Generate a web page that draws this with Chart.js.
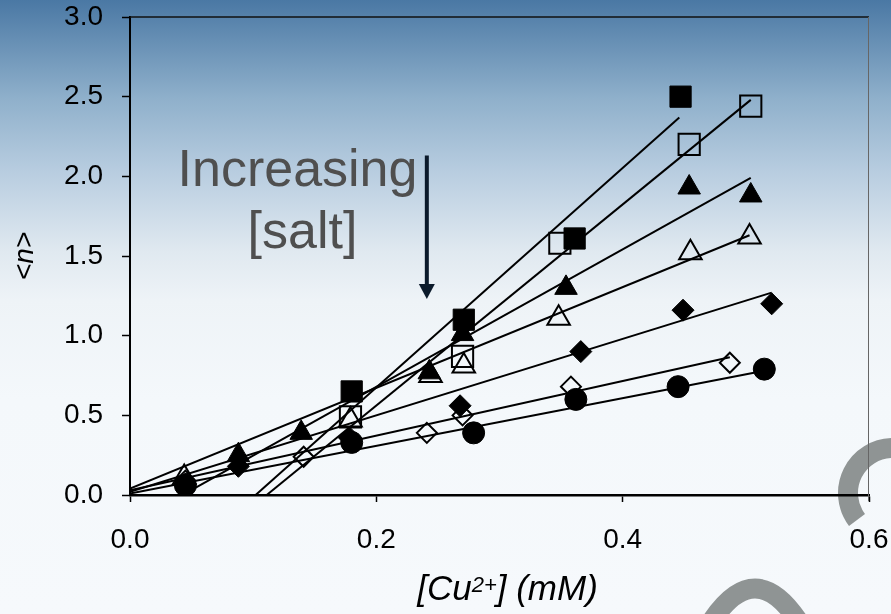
<!DOCTYPE html>
<html>
<head>
<meta charset="utf-8">
<script src="https://cdn.jsdelivr.net/npm/chart.js@4.4.1/dist/chart.umd.min.js"></script>
<style>
html, body { margin: 0; padding: 0; }
body {
    width: 891px; height: 614px; overflow: hidden; position: relative;
    background: linear-gradient(to bottom, #4a78a4 0%, #8fb0cb 16%, #b8cde0 28%, #e0e9f0 41%, #eef3f7 49%, #f4f8fb 65%, #f6f9fc 100%);
}
#deco, #chart { position: absolute; left: 0; top: 0; }
</style>
</head>
<body>
<svg id="deco" width="891" height="614">
    <path d="M 857 520 A 45 45 0 0 1 893 448" fill="none" stroke="#8f9494" stroke-width="20"/>
    <path d="M 705 632 Q 755 545 805 632" fill="none" stroke="#8f9494" stroke-width="20"/>
</svg>
<canvas id="chart" width="891" height="614"></canvas>
<script>
// axis ticks
var xTicks = [0, 0.2, 0.4, 0.6];
var yTicks = [0, 0.5, 1.0, 1.5, 2.0, 2.5, 3.0];

var sqFilledX = [0.180, 0.271, 0.361, 0.447];
var sqFilledY = [0.65, 1.10, 1.61, 2.50];
var sqOpenX = [0.179, 0.270, 0.349, 0.454, 0.504];
var sqOpenY = [0.49, 0.87, 1.58, 2.20, 2.44];
var triFilledX = [0.088, 0.139, 0.243, 0.270, 0.354, 0.454, 0.504];
var triFilledY = [0.25, 0.39, 0.77, 1.01, 1.30, 1.93, 1.88];
var triOpenX = [0.044, 0.179, 0.244, 0.271, 0.348, 0.455, 0.503];
var triOpenY = [0.11, 0.47, 0.75, 0.81, 1.11, 1.52, 1.62];
var diaFilledX = [0.045, 0.088, 0.178, 0.268, 0.366, 0.449, 0.521];
var diaFilledY = [0.07, 0.18, 0.36, 0.56, 0.90, 1.16, 1.20];
var diaOpenX = [0.045, 0.141, 0.241, 0.270, 0.358, 0.487];
var diaOpenY = [0.09, 0.24, 0.39, 0.50, 0.68, 0.83];
var circX = [0.045, 0.180, 0.279, 0.362, 0.445, 0.515];
var circY = [0.06, 0.33, 0.39, 0.60, 0.68, 0.79];

// fitted straight lines, start and end (same series order)
var fitStartX = [0.102, 0.111, 0.045, 0, 0, 0, 0];
var fitStartY = [0, 0, 0.01, 0.04, 0.02, 0.03, 0.01];
var fitEndX = [0.446, 0.504, 0.504, 0.503, 0.521, 0.487, 0.515];
var fitEndY = [2.37, 2.48, 1.99, 1.63, 1.27, 0.865, 0.78];

function pts(xs, ys) {
    return xs.map(function(x, i) { return { x: x, y: ys[i] }; });
}

function marker(xs, ys, style, radius, filled) {
    return {
        data: pts(xs, ys),
        showLine: false,
        pointStyle: style,
        pointRadius: radius,
        pointHoverRadius: radius,
        backgroundColor: filled ? '#000' : 'rgba(0,0,0,0)',
        borderColor: '#000',
        pointBorderWidth: filled ? 1 : 2
    };
}

var datasets = [
    marker(sqFilledX, sqFilledY, 'rect', 15, true),
    marker(sqOpenX, sqOpenY, 'rect', 15, false),
    marker(triFilledX, triFilledY, 'triangle', 13, true),
    marker(triOpenX, triOpenY, 'triangle', 13, false),
    marker(diaFilledX, diaFilledY, 'rectRot', 11, true),
    marker(diaOpenX, diaOpenY, 'rectRot', 10, false),
    marker(circX, circY, 'circle', 11, true)
];

// fit lines go after the markers so they are drawn underneath
for (var i = 0; i < fitStartX.length; i++) {
    datasets.push({
        data: [{ x: fitStartX[i], y: fitStartY[i] }, { x: fitEndX[i], y: fitEndY[i] }],
        showLine: true,
        borderColor: '#000',
        borderWidth: 2,
        pointRadius: 0,
        pointHoverRadius: 0
    });
}

var family = '"Liberation Sans", Arial, sans-serif';

// frame, x title, note text and arrow
var notePlugin = {
    id: 'note',
    afterDatasetsDraw: function(chart) {
        var ctx = chart.ctx;
        var xs = chart.scales.x, ys = chart.scales.y;
        var a = chart.chartArea;
        ctx.save();
        ctx.strokeStyle = '#111';
        ctx.lineWidth = 1.5;
        ctx.beginPath();
        ctx.moveTo(a.left, a.top);
        ctx.lineTo(a.right, a.top);
        ctx.stroke();
        ctx.strokeStyle = '#666';
        ctx.lineWidth = 1;
        ctx.beginPath();
        ctx.moveTo(a.right - 0.5, a.top);
        ctx.lineTo(a.right - 0.5, a.bottom + 6);
        ctx.stroke();

        // x axis title with superscript
        ctx.fillStyle = '#000';
        ctx.textBaseline = 'alphabetic';
        ctx.textAlign = 'left';
        var big = 'italic 35px ' + family, small = 'italic 22px ' + family;
        ctx.font = big;
        var w1 = ctx.measureText('[Cu').width, w3 = ctx.measureText('] (mM)').width;
        ctx.font = small;
        var w2 = ctx.measureText('2+').width;
        var tx = (a.left + a.right) / 2 + 8 - (w1 + w2 + w3) / 2;
        var ty = 600;
        ctx.font = big;
        ctx.fillText('[Cu', tx, ty);
        ctx.font = small;
        ctx.fillText('2+', tx + w1, ty - 8);
        ctx.font = big;
        ctx.fillText('] (mM)', tx + w1 + w2, ty);

        ctx.fillStyle = '#4f4f4f';
        ctx.font = '52px ' + family;
        ctx.textAlign = 'center';
        ctx.fillText('Increasing', xs.getPixelForValue(0.136), ys.getPixelForValue(1.94));
        ctx.fillText('[salt]', xs.getPixelForValue(0.140), ys.getPixelForValue(1.55));

        var ax = xs.getPixelForValue(0.241);
        var top = ys.getPixelForValue(2.13);
        var tip = ys.getPixelForValue(1.23);
        ctx.strokeStyle = '#0b1a2b';
        ctx.fillStyle = '#0b1a2b';
        ctx.lineWidth = 4;
        ctx.beginPath();
        ctx.moveTo(ax, top);
        ctx.lineTo(ax, tip - 12);
        ctx.stroke();
        ctx.beginPath();
        ctx.moveTo(ax - 8, tip - 15);
        ctx.lineTo(ax + 8, tip - 15);
        ctx.lineTo(ax, tip);
        ctx.closePath();
        ctx.fill();
        ctx.restore();
    }
};

var tickFont = { family: family, size: 28 };

new Chart(document.getElementById('chart').getContext('2d'), {
    type: 'scatter',
    data: { datasets: datasets },
    options: {
        responsive: false,
        animation: false,
        layout: { padding: { top: 16, right: 22, left: 0, bottom: 0 } },
        plugins: {
            legend: { display: false },
            tooltip: { enabled: false }
        },
        scales: {
            x: {
                type: 'linear',
                min: 0,
                max: 0.6,
                afterBuildTicks: function(s) { s.ticks = xTicks.map(function(v) { return { value: v }; }); },
                afterFit: function(s) {
                    s.height = 119;
                    s.paddingLeft = 0;
                    s.paddingRight = 0;
                },
                ticks: {
                    font: tickFont,
                    color: '#000',
                    padding: 21,
                    maxRotation: 0,
                    callback: function(v) { return v.toFixed(1); }
                },
                grid: { drawOnChartArea: false, drawTicks: true, tickLength: 7, tickColor: '#000', tickWidth: 1.5 },
                border: { display: true, color: '#000', width: 2.5 }
            },
            y: {
                type: 'linear',
                min: 0,
                max: 3,
                afterBuildTicks: function(s) { s.ticks = yTicks.map(function(v) { return { value: v }; }); },
                afterFit: function(s) {
                    s.width = 130;
                    s.paddingTop = 0;
                    s.paddingBottom = 0;
                },
                ticks: {
                    font: tickFont,
                    color: '#000',
                    padding: 19,
                    callback: function(v) { return v.toFixed(1); }
                },
                grid: { drawOnChartArea: false, drawTicks: true, tickLength: 8, tickColor: '#000', tickWidth: 1.5 },
                border: { display: true, color: '#000', width: 2 },
                title: {
                    display: true,
                    text: '<n>',
                    color: '#000',
                    font: { family: family, size: 28, style: 'italic' },
                    padding: { top: 8, bottom: 0 }
                }
            }
        }
    },
    plugins: [notePlugin]
});
</script>
</body>
</html>
